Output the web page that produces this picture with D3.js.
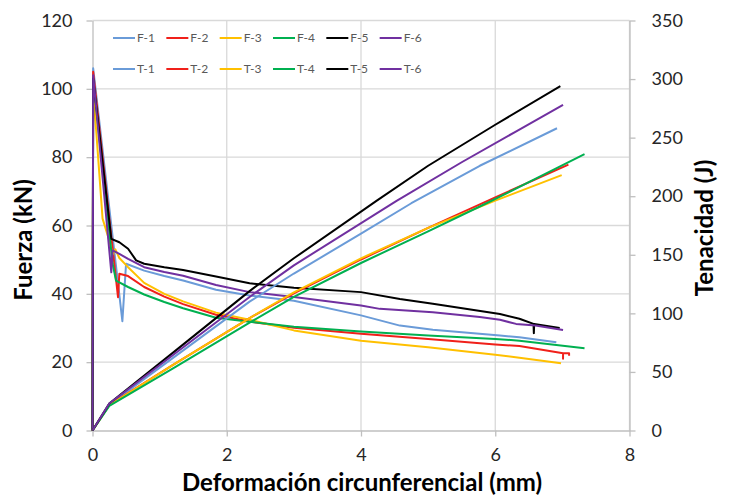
<!DOCTYPE html>
<html><head><meta charset="utf-8">
<script src="https://cdn.jsdelivr.net/npm/d3@7"></script>
<style>body{margin:0;background:#fff}svg{display:block;font-family:Lato,"Open Sans",sans-serif}</style>
</head><body><svg id="c" width="733" height="499"></svg>
<script>
// ---- Data ----
const xTicks = [0, 2, 4, 6, 8];
const leftTicks = [0, 20, 40, 60, 80, 100, 120];
const rightTicks = [0, 50, 100, 150, 200, 250, 300, 350];
const fNames = ["F-1", "F-2", "F-3", "F-4", "F-5", "F-6"];
const tNames = ["T-1", "T-2", "T-3", "T-4", "T-5", "T-6"];
const colors = ["#6A9BD8", "#F0201A", "#FFC000", "#00B050", "#000000", "#7030A0"];

// Fuerza (kN) vs deformación (mm)
const F1 = [[0,0],[0.01,106],[0.445,32],[0.5,48.8],[0.77,46.8],[1.07,45.2],[1.35,43.9],[1.84,41.2],[2.34,39.5],[3,38],[4,33.7],[4.58,30.7],[5.07,29.5],[6.07,27.8],[6.36,27.3],[6.91,25.8]];
const F2 = [[0,0],[0.01,105],[0.38,39],[0.4,45.9],[0.53,45.2],[0.77,42],[1.07,39.2],[1.35,37],[1.84,33.9],[2.34,31.9],[3,30.1],[4,28.3],[5,26.8],[6,25.2],[6.36,24.7],[7.01,22.6],[7.01,21.0],[7.01,22.6],[7.1,22.6],[7.1,21.9]];
const F3 = [[0,0],[0.01,100],[0.15,62],[0.25,55.6],[0.3,51.5],[0.34,53],[0.4,50.5],[0.53,47.8],[0.77,43.2],[1.07,40],[1.35,37.8],[1.84,34.5],[2.34,32.4],[3,29.3],[4,26.3],[5,24.4],[6,22.2],[6.36,21.3],[6.98,19.7]];
const F4 = [[0,0],[0.01,103],[0.3,48.8],[0.35,43.9],[0.53,42],[0.77,39.8],[1.07,37.6],[1.35,35.8],[1.84,33],[2.34,31.8],[3,30.4],[4,29],[5,27.8],[6,26.8],[6.36,26.3],[7.33,24.1]];
const F5 = [[0,0],[0.01,103],[0.28,56.1],[0.4,55.1],[0.53,53.2],[0.65,49.8],[0.77,48.8],[1.07,47.8],[1.35,47],[1.84,45.1],[2.34,43.1],[3,41.8],[4,40.5],[4.58,38.5],[5.07,37.1],[6.07,34.1],[6.36,32.7],[6.57,31.2],[6.575,28.5],[6.58,31.2],[6.96,30]];
const F6 = [[0,0],[0.01,104],[0.28,46.3],[0.3,52.7],[0.4,51.7],[0.53,50.2],[0.77,47.8],[1.07,46.4],[1.35,45.3],[1.84,42.6],[2.34,40.5],[3,39.1],[4,36.6],[4.28,35.6],[5.07,34.6],[5.77,33.2],[6.07,32.4],[6.31,31.2],[6.6,30.7],[7.01,29.4]];

// Tenacidad (J) vs deformación (mm)
const T1 = [[0,0],[0.25,22],[1.2,62],[2.34,110],[3,134],[4,168],[4.75,194],[5.77,226],[6.92,258]];
const T2 = [[0,0],[0.25,22],[1.2,56],[2.34,96],[3,117],[4,146],[5,173],[6,199],[7.09,227]];
const T3 = [[0,0],[0.25,21.5],[1.2,56],[2.34,96],[3,118],[4,147],[5,173],[5.99,196],[6.99,218]];
const T4 = [[0,0],[0.25,21],[1.2,53],[2.34,92],[3,114],[4,143],[5,170],[5.87,194],[6.5,212],[7.33,236]];
const T5 = [[0,0],[0.25,23],[1.2,66.5],[2.34,119],[3,147],[4.23,196],[5,226],[6,261],[6.97,294]];
const T6 = [[0,0],[0.25,23],[1.2,64.5],[2.34,114],[3,141],[4.53,196],[5.5,229],[6.3,255],[7.01,278]];

const fSeries = [F1, F2, F3, F4, F5, F6];
const tSeries = [T1, T2, T3, T4, T5, T6];

// ---- Chart ----
const svg = d3.select("#c");
const x = d3.scaleLinear().domain([0, 8]).range([92.5, 629.5]);
const yL = d3.scaleLinear().domain([0, 120]).range([430.5, 20.5]);
const yR = d3.scaleLinear().domain([0, 350]).range([430.5, 20.5]);

const grid = svg.append("g");
grid.selectAll("line.h").data(leftTicks.slice(1)).join("line")
  .attr("x1", x(0)).attr("x2", x(8)).attr("y1", d => yL(d)).attr("y2", d => yL(d))
  .attr("stroke", "#d9d9d9").attr("stroke-width", 1.3);
grid.selectAll("line.v").data(xTicks.slice(1)).join("line")
  .attr("y1", yL(0)).attr("y2", yL(120)).attr("x1", d => x(d)).attr("x2", d => x(d))
  .attr("stroke", "#d9d9d9").attr("stroke-width", 1.3);

function styleAxis(g) {
  g.select(".domain").attr("stroke", "#bfbfbf").attr("stroke-width", 1.3);
  g.selectAll(".tick line").attr("stroke", "#bfbfbf").attr("stroke-width", 1.3);
  g.selectAll(".tick text").attr("fill", "#262626").style("font-size", "18px").style("font-family", "Lato, sans-serif");
}
svg.append("g").attr("transform", `translate(${x(0)},0)`)
  .call(d3.axisLeft(yL).tickValues(leftTicks).tickSize(6).tickSizeOuter(0).tickPadding(14)).call(styleAxis);
svg.append("g").attr("transform", `translate(${x(8)},0)`)
  .call(d3.axisRight(yR).tickValues(rightTicks).tickSize(6).tickSizeOuter(0).tickPadding(16)).call(styleAxis);
svg.append("g").attr("transform", `translate(0,${yL(0)})`)
  .call(d3.axisBottom(x).tickValues(xTicks).tickSize(6).tickSizeOuter(0).tickPadding(12)).call(styleAxis);

// lines
const lineF = d3.line().x(d => x(d[0])).y(d => yL(d[1]));
const lineT = d3.line().x(d => x(d[0])).y(d => yR(d[1]));
const plot = svg.append("g").attr("fill", "none").attr("stroke-width", 2).attr("stroke-linejoin", "round");
fSeries.forEach((s, i) => plot.append("path").datum(s).attr("d", lineF).attr("stroke", colors[i]));
tSeries.forEach((s, i) => plot.append("path").datum(s).attr("d", lineT).attr("stroke", colors[i]));

// legend
const leg = svg.append("g");
[fNames, tNames].forEach((names, r) => {
  names.forEach((n, i) => {
    const lx = 113 + i * 53.33, ly = 38 + r * 31;
    leg.append("line").attr("x1", lx).attr("x2", lx + 22).attr("y1", ly).attr("y2", ly)
      .attr("stroke", colors[i]).attr("stroke-width", 2);
    leg.append("text").attr("x", lx + 24).attr("y", ly + 4.3).text(n)
      .attr("fill", "#595959").style("font-size", "12px");
  });
});

// titles
svg.append("text").attr("x", 362).attr("y", 491).attr("text-anchor", "middle")
  .style("font-size", "24px").style("font-weight", "bold").attr("fill", "#000")
  .text("Deformación circunferencial (mm)");
svg.append("text").attr("transform", "translate(32,240) rotate(-90)").attr("text-anchor", "middle")
  .style("font-size", "24px").style("font-weight", "bold").attr("fill", "#000")
  .text("Fuerza (kN)");
svg.append("text").attr("transform", "translate(713,228) rotate(-90)").attr("text-anchor", "middle")
  .style("font-size", "24px").style("font-weight", "bold").attr("fill", "#000")
  .text("Tenacidad (J)");
</script></body></html>
